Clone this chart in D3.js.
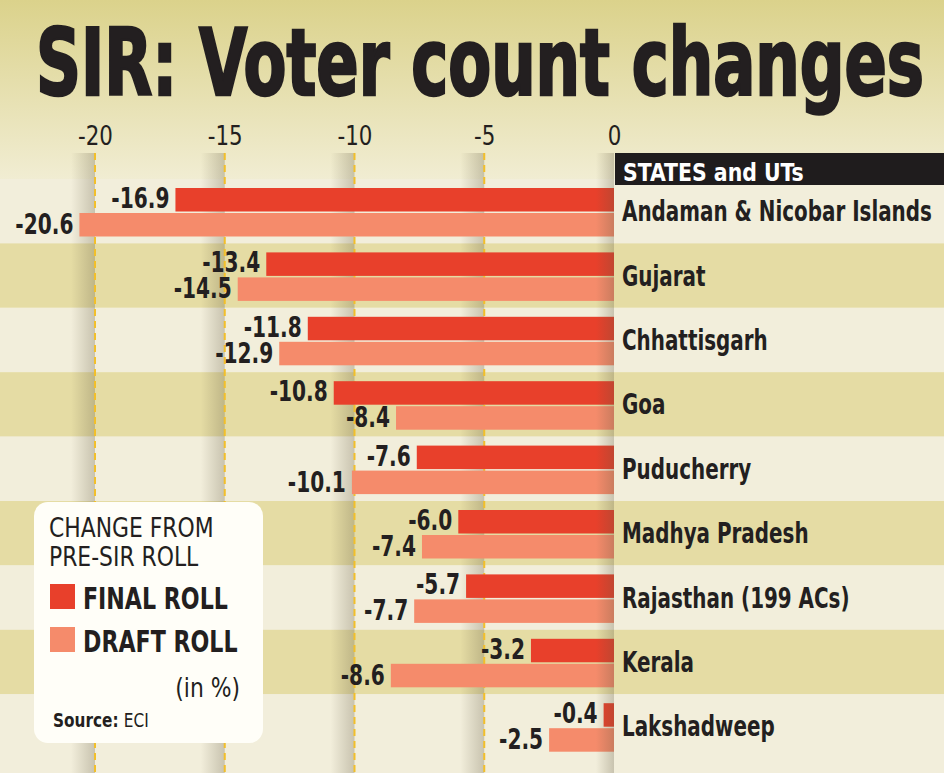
<!DOCTYPE html>
<html>
<head>
<meta charset="utf-8">
<script src="https://cdn.jsdelivr.net/npm/d3@7"></script>
<style>
    body { margin: 0; background: #f2eedb; }
    svg { display: block; }
    text { font-family: "DejaVu Sans Condensed", "Liberation Sans Narrow", "Noto Sans", sans-serif; }
</style>
</head>
<body>
<div id="chart"></div>
<script>
var states = ["Andaman & Nicobar Islands", "Gujarat", "Chhattisgarh", "Goa", "Puducherry",
    "Madhya Pradesh", "Rajasthan (199 ACs)", "Kerala", "Lakshadweep"];
var final_roll = [-16.9, -13.4, -11.8, -10.8, -7.6, -6.0, -5.7, -3.2, -0.4];
var draft_roll = [-20.6, -14.5, -12.9, -8.4, -10.1, -7.4, -7.7, -8.6, -2.5];
var ticks = [-20, -15, -10, -5, 0];

var width = 944;
var height = 773;

// squeeze text horizontally, the font is wider than the original
function squeeze(sel, k) {
    sel.each(function() {
        var len = this.getComputedTextLength();
        d3.select(this)
            .attr("textLength", len * k)
            .attr("lengthAdjust", "spacingAndGlyphs");
    });
}

var svg = d3.select("#chart")
    .append("svg")
    .attr("width", width)
    .attr("height", height);

var defs = svg.append("defs");

var bg = defs.append("linearGradient")
    .attr("id", "bg")
    .attr("x1", 0).attr("y1", 0).attr("x2", 0).attr("y2", 1);
bg.append("stop").attr("offset", "0").attr("stop-color", "#dbd28b");
bg.append("stop").attr("offset", "1").attr("stop-color", "#f1edd3");

var shade = defs.append("linearGradient")
    .attr("id", "shade")
    .attr("x1", 0).attr("y1", 0).attr("x2", 1).attr("y2", 0);
shade.append("stop").attr("offset", "0").attr("stop-color", "#5e553e").attr("stop-opacity", 0);
shade.append("stop").attr("offset", "1").attr("stop-color", "#5e553e").attr("stop-opacity", 0.28);

// scales
var x = d3.scaleLinear()
    .domain([-20, 0])
    .range([95, 614]);

var y = d3.scaleBand()
    .domain(states)
    .range([179, 179 + 64.4 * states.length])
    .padding(0);

// background
svg.append("rect")
    .attr("width", width)
    .attr("height", 180)
    .attr("fill", "url(#bg)");

svg.selectAll(".row")
    .data(states)
    .enter()
    .append("rect")
    .attr("x", 0)
    .attr("y", function(d) { return y(d) })
    .attr("width", width)
    .attr("height", function(d, i) { return i == states.length - 1 ? height - y(d) : y.bandwidth() })
    .attr("fill", function(d, i) { return i % 2 == 0 ? "#f2eedb" : "#e5dca4" });

// title
svg.append("text")
    .attr("x", 36)
    .attr("y", 95)
    .attr("textLength", 888)
    .attr("lengthAdjust", "spacingAndGlyphs")
    .style("font-size", "92px")
    .style("font-weight", "bold")
    .attr("fill", "#231f20")
    .attr("stroke", "#231f20")
    .attr("stroke-width", 2.5)
    .text("SIR: Voter count changes");

// grid lines with shadow
var grid = ticks.filter(function(t) { return t != 0 });
svg.selectAll(".gshade")
    .data(grid)
    .enter()
    .append("rect")
    .attr("x", function(d) { return x(d) - 24 })
    .attr("y", 153)
    .attr("width", 24)
    .attr("height", height - 153)
    .attr("fill", "url(#shade)");

svg.selectAll(".gline")
    .data(grid)
    .enter()
    .append("line")
    .attr("x1", function(d) { return x(d) })
    .attr("x2", function(d) { return x(d) })
    .attr("y1", 153)
    .attr("y2", height)
    .attr("stroke", "#f2bf2a")
    .attr("stroke-width", 2)
    .attr("stroke-dasharray", "7,5");

// axis on top
var dash = function(s) { return s.replace("\u2212", "-") };
var axis = svg.append("g")
    .attr("transform", "translate(0,145)")
    .call(d3.axisTop(x).tickValues(ticks).tickSize(0).tickPadding(0)
        .tickFormat(function(d) { return dash(d3.format("d")(d)) }));
axis.select(".domain").remove();
axis.selectAll("text")
    .attr("fill", "#231f20")
    .style("font-size", "27px")
    .style("font-family", null)
    .attr("dy", 0)
    .call(squeeze, 0.88);

// bars
var final_y = function(d, i) { return y(states[i]) + 9 };
var draft_y = function(d, i) { return y(states[i]) + 34 };

svg.selectAll(".final")
    .data(final_roll)
    .enter()
    .append("rect")
    .attr("x", function(d) { return x(d) })
    .attr("y", final_y)
    .attr("width", function(d) { return x(0) - x(d) })
    .attr("height", 23.5)
    .attr("fill", "#e8402b");

svg.selectAll(".draft")
    .data(draft_roll)
    .enter()
    .append("rect")
    .attr("x", function(d) { return x(d) })
    .attr("y", draft_y)
    .attr("width", function(d) { return x(0) - x(d) })
    .attr("height", 23.5)
    .attr("fill", "#f58b6b");

// shadow at zero line
svg.append("rect")
    .attr("x", x(0) - 18)
    .attr("y", 153)
    .attr("width", 18)
    .attr("height", height - 153)
    .attr("fill", "url(#shade)");

// value labels
var fmt = function(d) { return dash(d3.format(".1f")(d)) };
svg.selectAll(".flabel")
    .data(final_roll)
    .enter()
    .append("text")
    .attr("x", function(d) { return x(d) - 6 })
    .attr("y", function(d, i) { return final_y(d, i) + 20 })
    .attr("text-anchor", "end")
    .style("font-size", "28px")
    .style("font-weight", "bold")
    .attr("fill", "#231f20")
    .text(fmt)
    .call(squeeze, 0.8);

svg.selectAll(".dlabel")
    .data(draft_roll)
    .enter()
    .append("text")
    .attr("x", function(d) { return x(d) - 6 })
    .attr("y", function(d, i) { return draft_y(d, i) + 21 })
    .attr("text-anchor", "end")
    .style("font-size", "28px")
    .style("font-weight", "bold")
    .attr("fill", "#231f20")
    .text(fmt)
    .call(squeeze, 0.8);

// header and state names
svg.append("rect")
    .attr("x", x(0) + 1)
    .attr("y", 153)
    .attr("width", width - x(0))
    .attr("height", 32)
    .attr("fill", "#1f1c1d");

svg.append("text")
    .attr("x", 623)
    .attr("y", 181)
    .style("font-size", "25px")
    .style("font-weight", "bold")
    .attr("fill", "#ffffff")
    .text("STATES and UTs")
    .call(squeeze, 0.91);

svg.selectAll(".state")
    .data(states)
    .enter()
    .append("text")
    .attr("x", 622)
    .attr("y", function(d) { return y(d) + y.bandwidth() / 2 + 10 })
    .style("font-size", "28px")
    .style("font-weight", "bold")
    .attr("fill", "#231f20")
    .text(function(d) { return d })
    .call(squeeze, 0.79);

// legend
var legend = svg.append("g");
legend.append("rect")
    .attr("x", 34)
    .attr("y", 502)
    .attr("width", 229)
    .attr("height", 241)
    .attr("rx", 14)
    .attr("fill", "#fffef8");

legend.append("text")
    .attr("x", 49)
    .attr("y", 537)
    .style("font-size", "27px")
    .attr("fill", "#231f20")
    .text("CHANGE FROM")
    .call(squeeze, 0.9);
legend.append("text")
    .attr("x", 49)
    .attr("y", 566)
    .style("font-size", "27px")
    .attr("fill", "#231f20")
    .text("PRE-SIR ROLL")
    .call(squeeze, 0.9);

var keys = [{name: "FINAL ROLL", color: "#e8402b"}, {name: "DRAFT ROLL", color: "#f58b6b"}];
var key = legend.selectAll(".key")
    .data(keys)
    .enter()
    .append("g")
    .attr("transform", function(d, i) { return "translate(50," + (584 + i * 43) + ")" });
key.append("rect")
    .attr("width", 25)
    .attr("height", 25)
    .attr("fill", function(d) { return d.color });
key.append("text")
    .attr("x", 33)
    .attr("y", 25)
    .style("font-size", "30px")
    .style("font-weight", "bold")
    .attr("fill", "#231f20")
    .text(function(d) { return d.name })
    .call(squeeze, 0.82);

legend.append("text")
    .attr("x", 240)
    .attr("y", 697)
    .attr("text-anchor", "end")
    .style("font-size", "27px")
    .attr("fill", "#231f20")
    .text("(in %)")
    .call(squeeze, 0.9);

var src = legend.append("text")
    .attr("x", 53)
    .attr("y", 727)
    .style("font-size", "20px")
    .attr("fill", "#231f20");
src.append("tspan").style("font-weight", "bold").text("Source: ");
src.append("tspan").text("ECI");
src.call(squeeze, 0.85);
</script>
</body>
</html>
